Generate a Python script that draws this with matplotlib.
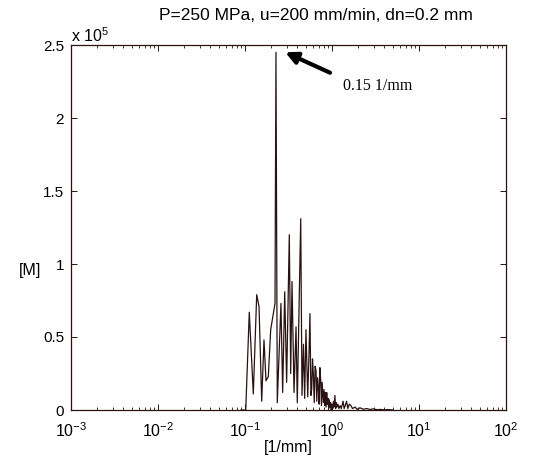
import matplotlib
matplotlib.use("Agg")
import matplotlib.pyplot as plt
from matplotlib.ticker import FixedLocator, LogLocator, NullFormatter

plt.rcParams['font.family'] = ['Liberation Sans', 'DejaVu Sans']

# frequency [1/mm]
freq = [0.090, 0.095, 0.102, 0.112, 0.1246, 0.1363, 0.1449, 0.1556, 0.1653, 0.1743,
        0.1853, 0.1974, 0.2213, 0.227, 0.235, 0.259, 0.271, 0.286, 0.301, 0.323,
        0.335, 0.347, 0.366, 0.386, 0.399, 0.437, 0.452, 0.470, 0.485, 0.502,
        0.526, 0.545, 0.558, 0.572, 0.584, 0.597, 0.610, 0.625, 0.640, 0.655,
        0.668, 0.682, 0.696, 0.710, 0.726, 0.742, 0.756, 0.770, 0.795, 0.810,
        0.825, 0.840, 0.855, 0.869, 0.885, 0.900, 0.915, 0.930, 0.949, 0.965,
        0.980, 1.00, 1.02, 1.04, 1.06, 1.08, 1.10, 1.12, 1.14, 1.17,
        1.20, 1.24, 1.28, 1.34, 1.38, 1.42, 1.47, 1.52, 1.58, 1.65,
        1.72, 1.84, 1.95, 2.10, 2.30, 2.51, 2.75, 2.96, 3.30, 3.55,
        4.00, 4.40, 5.00]
# magnitude [M], units of 1e5
mag = [0.0, 0.0, 0.0, 0.67, 0.11, 0.79, 0.71, 0.06, 0.48, 0.20,
       0.23, 0.55, 0.73, 2.45, 0.05, 0.73, 0.12, 0.81, 0.19, 1.20,
       0.25, 0.88, 0.12, 0.57, 0.05, 1.31, 0.10, 0.45, 0.08, 0.55,
       0.09, 0.40, 0.66, 0.10, 0.14, 0.35, 0.25, 0.05, 0.30, 0.27,
       0.06, 0.22, 0.16, 0.04, 0.29, 0.20, 0.03, 0.19, 0.05, 0.14,
       0.03, 0.12, 0.02, 0.12, 0.04, 0.08, 0.01, 0.07, 0.02, 0.05,
       0.00, 0.04, 0.01, 0.06, 0.02, 0.10, 0.01, 0.05, 0.02, 0.04,
       0.01, 0.03, 0.01, 0.06, 0.01, 0.03, 0.06, 0.01, 0.04, 0.03,
       0.01, 0.02, 0.005, 0.015, 0.005, 0.01, 0.003, 0.008, 0.002, 0.004,
       0.001, 0.003, 0.0]

yticks = [0, 0.5, 1, 1.5, 2, 2.5]
ytick_labels = ['0', '0.5', '1', '1.5', '2', '2.5']
xticks = [1e-3, 1e-2, 1e-1, 1e0, 1e1, 1e2]
xtick_labels = ['$\\mathregular{10^{-3}}$', '$\\mathregular{10^{-2}}$', '$\\mathregular{10^{-1}}$',
                '$\\mathregular{10^{0}}$', '$\\mathregular{10^{1}}$', '$\\mathregular{10^{2}}$']

line_col = '#2a1212'
frame_col = '#2a1212'

fig = plt.figure(figsize=(5.58, 4.62), dpi=100)
ax = fig.add_axes([71/558, 52/462, 435/558, 365/462])
ax.plot(freq, mag, color=line_col, lw=0.9)
ax.set_xscale('log')
ax.set_xlim(1e-3, 1e2)
ax.set_ylim(0, 2.5)

ax.xaxis.set_major_locator(FixedLocator(xticks))
ax.set_xticklabels(xtick_labels, fontsize=11.5)
ax.xaxis.set_minor_locator(LogLocator(base=10, subs=range(2, 10), numticks=20))
ax.xaxis.set_minor_formatter(NullFormatter())
ax.set_yticks(yticks)
ax.set_yticklabels(ytick_labels, fontsize=11)

ax.tick_params(which='both', direction='in', top=True, right=True, color=frame_col)
ax.tick_params(which='major', length=4, width=0.7)
ax.tick_params(which='minor', length=2, width=0.6)
ax.tick_params(axis='x', pad=8)
ax.tick_params(axis='y', pad=5)
for s in ax.spines.values():
    s.set_color(frame_col)
    s.set_linewidth(0.9)

ax.set_xlabel('[1/mm]', fontsize=11.5, labelpad=0)
ax.set_ylabel('[M]', fontsize=11.5, rotation=0, ha='center', va='center')
ax.yaxis.set_label_coords(-41/435, (410 - 270)/365)
ax.text(0.0, 1.0, 'x 10$^{\\mathregular{5}}$', transform=ax.transAxes,
        fontsize=11.5, ha='left', va='bottom')
fig.text(316/558, 1 - 16/462, 'P=250 MPa, u=200 mm/min, dn=0.2 mm',
         fontsize=12.5, ha='center', va='center')

ax.annotate('', xy=(0.29, 2.45), xytext=(0.95, 2.31),
            arrowprops=dict(arrowstyle='-|>,head_length=0.7,head_width=0.35',
                            color='black', lw=3, shrinkA=0, shrinkB=0))
ax.text(1.34, 2.22, '0.15 1/mm', fontsize=11.5, family=['Liberation Serif'],
        ha='left', va='center')

fig.savefig('out.png', dpi=100)
